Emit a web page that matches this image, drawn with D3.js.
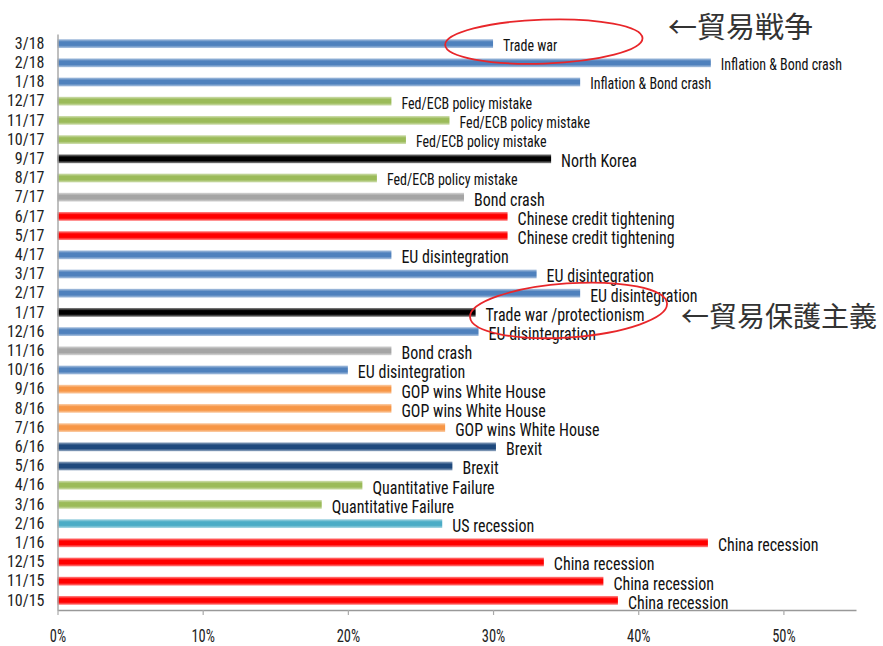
<!DOCTYPE html>
<html>
<head>
<meta charset="utf-8">
<script src="https://cdn.jsdelivr.net/npm/d3@7"></script>
<style>
  html, body { margin: 0; padding: 0; background: #fff; }
  svg { display: block; }
  .narrow { font-family: "Liberation Sans Narrow", "Arial Narrow", "Roboto Condensed", "Liberation Sans", sans-serif; }
</style>
</head>
<body>
<svg id="chart" width="883" height="646"></svg>
<script>
// ---- data ----
const months = ["3/18","2/18","1/18","12/17","11/17","10/17","9/17","8/17","7/17","6/17","5/17","4/17","3/17","2/17","1/17","12/16","11/16","10/16","9/16","8/16","7/16","6/16","5/16","4/16","3/16","2/16","1/16","12/15","11/15","10/15"];
const shares = [30, 45, 36, 23, 27, 24, 34, 22, 28, 31, 31, 23, 33, 36, 28.8, 29, 23, 20, 23, 23, 26.7, 30.2, 27.2, 21, 18.2, 26.5, 44.8, 33.5, 37.6, 38.6];
const risks = ["Trade war","Inflation & Bond crash","Inflation & Bond crash","Fed/ECB policy mistake","Fed/ECB policy mistake","Fed/ECB policy mistake","North Korea","Fed/ECB policy mistake","Bond crash","Chinese credit tightening","Chinese credit tightening","EU disintegration","EU disintegration","EU disintegration","Trade war /protectionism","EU disintegration","Bond crash","EU disintegration","GOP wins White House","GOP wins White House","GOP wins White House","Brexit","Brexit","Quantitative Failure","Quantitative Failure","US recession","China recession","China recession","China recession","China recession"];
const groups = ["blue","blue","blue","green","green","green","black","green","gray","red","red","blue","blue","blue","black","blue","gray","blue","orange","orange","orange","navy","navy","green","green","teal","red","red","red","red"];
const xTicks = [0, 10, 20, 30, 40, 50];
const notes = ["←貿易戦争", "←貿易保護主義"];

// ---- styles ----
const palette = { blue:"#4F81BD", green:"#9BBB59", black:"#000000", gray:"#A5A5A5", red:"#FF0000", orange:"#F79646", navy:"#1F497D", teal:"#4BACC6" };
const smallRows = new Set(["3/18","2/18","1/18","12/17","11/17","10/17","8/17"]);

const svg = d3.select("#chart");
const x = d3.scaleLinear().domain([0, 55]).range([57.5, 856]);
const y = d3.scaleBand().domain(months).range([34, 610]).paddingInner(0.54).paddingOuter(0.27);

// gradients
const defs = svg.append("defs");
Object.entries(palette).forEach(([k, c]) => {
  const g = defs.append("linearGradient").attr("id", "g-" + k).attr("x1", 0).attr("y1", 0).attr("x2", 0).attr("y2", 1);
  const light = d3.interpolateRgb(c, "#ffffff")(0.55);
  g.append("stop").attr("offset", "0%").attr("stop-color", light);
  g.append("stop").attr("offset", "30%").attr("stop-color", c);
  g.append("stop").attr("offset", "70%").attr("stop-color", c);
  g.append("stop").attr("offset", "100%").attr("stop-color", light);
});

const rows = months.map((m, i) => ({ m, v: shares[i], label: risks[i], g: groups[i] }));

// bars
svg.append("g").selectAll("rect").data(rows).join("rect")
  .attr("x", x(0))
  .attr("y", d => y(d.m))
  .attr("width", d => x(d.v) - x(0))
  .attr("height", y.bandwidth())
  .attr("fill", d => "url(#g-" + d.g + ")");

// bar labels (slightly stretched vertically like the source)
svg.append("g").attr("class", "narrow").selectAll("text").data(rows).join("text")
  .attr("transform", d => `translate(${x(d.v) + 10},${y(d.m) + y.bandwidth() / 2 + 2}) scale(1,1.15)`)
  .attr("dominant-baseline", "central")
  .attr("font-size", d => smallRows.has(d.m) ? 14 : 16)
  .attr("fill", "#111")
  .text(d => d.label);

// x axis
const xAxis = svg.append("g").attr("transform", "translate(0,610)")
  .call(d3.axisBottom(x).tickValues(xTicks).tickFormat(d => d + "%").tickSize(5).tickSizeOuter(0));
xAxis.select(".domain").attr("stroke", "#999").attr("stroke-width", 1.5);
xAxis.selectAll(".tick line").attr("stroke", "#aaa").attr("stroke-width", 1.2);
xAxis.selectAll(".tick text").attr("class", "narrow")
  .attr("y", 0).attr("dy", null)
  .attr("dominant-baseline", "central")
  .attr("transform", "translate(0,25.5) scale(1,1.3)")
  .attr("font-size", 14.5).attr("fill", "#222");

// y axis
const yAxis = svg.append("g").attr("transform", "translate(57.5,0)")
  .call(d3.axisLeft(y).tickSize(0).tickPadding(13));
yAxis.select(".domain").attr("stroke", "#aaa").attr("stroke-width", 1.5);
yAxis.selectAll(".tick text").attr("class", "narrow").attr("font-size", 16).attr("fill", "#222");

// annotations
const ann = svg.append("g");
const c1y = y("3/18") + y.bandwidth() / 2 - 2;
ann.append("ellipse")
  .attr("cx", x(33.5)).attr("cy", c1y).attr("rx", x(6.8) - x(0)).attr("ry", 22)
  .attr("transform", `rotate(-2,${x(33.5)},${c1y})`)
  .attr("fill", "none").attr("stroke", "#e8262a").attr("stroke-width", 1.8);
const c2y = y("1/17") + y.bandwidth() / 2 - 2;
ann.append("ellipse")
  .attr("cx", x(35.2)).attr("cy", c2y).attr("rx", x(6.8) - x(0)).attr("ry", 27)
  .attr("transform", `rotate(-4,${x(35.2)},${c2y})`)
  .attr("fill", "none").attr("stroke", "#e8262a").attr("stroke-width", 1.8);

ann.append("text").attr("x", 668).attr("y", 25)
  .attr("dominant-baseline", "central")
  .attr("font-family", "'Noto Sans CJK JP', sans-serif").attr("font-size", 29).attr("fill", "#333")
  .text(notes[0]);
ann.append("text").attr("x", 681).attr("y", c2y + 5)
  .attr("dominant-baseline", "central")
  .attr("font-family", "'Noto Sans CJK JP', sans-serif").attr("font-size", 28).attr("fill", "#333")
  .text(notes[1]);
</script>
</body>
</html>
